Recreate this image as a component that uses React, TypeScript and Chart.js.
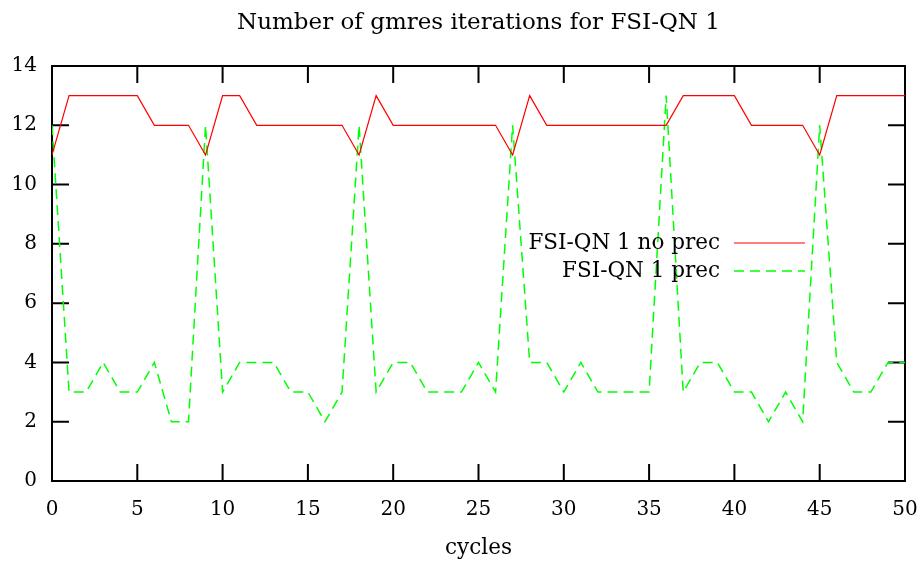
import { useEffect, useRef } from "react";
import { Chart, registerables } from "chart.js";

Chart.register(...registerables);

const cycles = [
  0, 1, 2, 3, 4, 5, 6, 7, 8, 9, 10, 11, 12, 13, 14, 15, 16, 17, 18, 19, 20, 21, 22, 23, 24, 25,
  26, 27, 28, 29, 30, 31, 32, 33, 34, 35, 36, 37, 38, 39, 40, 41, 42, 43, 44, 45, 46, 47, 48, 49, 50,
];
const noPrec = [
  11, 13, 13, 13, 13, 13, 12, 12, 12, 11, 13, 13, 12, 12, 12, 12, 12, 12, 11, 13, 12, 12, 12, 12, 12, 12,
  12, 11, 13, 12, 12, 12, 12, 12, 12, 12, 12, 13, 13, 13, 13, 12, 12, 12, 12, 11, 13, 13, 13, 13, 13,
];
const prec = [
  12, 3, 3, 4, 3, 3, 4, 2, 2, 12, 3, 4, 4, 4, 3, 3, 2, 3, 12, 3, 4, 4, 3, 3, 3, 4,
  3, 12, 4, 4, 3, 4, 3, 3, 3, 3, 13, 3, 4, 4, 3, 3, 2, 3, 2, 12, 4, 3, 3, 4, 4,
];
const xTicks = [0, 5, 10, 15, 20, 25, 30, 35, 40, 45, 50];
const yTicks = [0, 2, 4, 6, 8, 10, 12, 14];
const seriesNames = ["FSI-QN 1 no prec", "FSI-QN 1 prec"];
const titleText = "Number of gmres iterations for FSI-QN 1";
const xTitle = "cycles";

const FONT = "'DejaVu Serif', serif";
const TICK_SIZE = 20;
const TEXT_SIZE = 21.5;
const TITLE_SIZE = 23;

const framePlugin = {
  id: "gnuplotFrame",
  beforeDatasetsDraw(chart: any) {
    const { ctx, chartArea: a, scales } = chart;
    const tl = 17;
    ctx.save();
    ctx.strokeStyle = "#000";
    ctx.lineWidth = 2;
    ctx.beginPath();
    for (const v of xTicks) {
      const px = scales.x.getPixelForValue(v);
      ctx.moveTo(px, a.bottom);
      ctx.lineTo(px, a.bottom - tl);
      ctx.moveTo(px, a.top);
      ctx.lineTo(px, a.top + tl);
    }
    for (const v of yTicks) {
      const py = scales.y.getPixelForValue(v);
      ctx.moveTo(a.left, py);
      ctx.lineTo(a.left + tl, py);
      ctx.moveTo(a.right, py);
      ctx.lineTo(a.right - tl, py);
    }
    ctx.stroke();
    ctx.strokeRect(a.left, a.top, a.right - a.left, a.bottom - a.top);
    ctx.restore();
  },
  afterDraw(chart: any) {
    const { ctx, chartArea: a } = chart;
    ctx.save();
    // title centred over the plot area
    ctx.font = `${TITLE_SIZE}px ${FONT}`;
    ctx.fillStyle = "#000";
    ctx.textAlign = "center";
    ctx.textBaseline = "middle";
    ctx.fillText(titleText, (a.left + a.right) / 2, 23.5);

    // legend inside the plot
    const textRight = 720;
    const lineL = 734;
    const lineR = 805;
    const rows = [243, 271];
    ctx.font = `${TEXT_SIZE}px ${FONT}`;
    ctx.textAlign = "right";
    chart.data.datasets.forEach((ds: any, i: number) => {
      const y = rows[i];
      ctx.fillStyle = "#000";
      ctx.fillText(ds.label, textRight, y);
      ctx.strokeStyle = ds.borderColor;
      ctx.lineWidth = ds.borderWidth;
      ctx.setLineDash(ds.borderDash || []);
      ctx.beginPath();
      ctx.moveTo(lineL, y);
      ctx.lineTo(lineR, y);
      ctx.stroke();
    });
    ctx.restore();
  },
};

export default function App() {
  const ref = useRef<HTMLCanvasElement>(null);
  useEffect(() => {
    document.body.style.margin = "0";
    const canvas = ref.current!;
    const chart = new Chart(canvas, {
      type: "line",
      data: {
        datasets: [
          {
            label: seriesNames[0],
            data: cycles.map((c, i) => ({ x: c, y: noPrec[i] })),
            borderColor: "#ff0000",
            borderWidth: 1.2,
            pointRadius: 0,
            tension: 0,
            fill: false,
          },
          {
            label: seriesNames[1],
            data: cycles.map((c, i) => ({ x: c, y: prec[i] })),
            borderColor: "#00ff00",
            borderWidth: 1.5,
            borderDash: [10, 6],
            pointRadius: 0,
            tension: 0,
            fill: false,
          },
        ],
      },
      options: {
        responsive: false,
        animation: false,
        layout: { padding: { left: 0, right: 18, top: 66, bottom: 0 } },
        plugins: {
          legend: { display: false },
          tooltip: { enabled: false },
          title: { display: false },
        },
        scales: {
          x: {
            type: "linear",
            min: 0,
            max: 50,
            border: { display: false },
            grid: { display: false, drawTicks: false, tickLength: 0 },
            ticks: {
              stepSize: 5,
              color: "#000",
              font: { family: FONT, size: TICK_SIZE },
              padding: 17,
              maxRotation: 0,
            },
            title: {
              display: true,
              text: xTitle,
              color: "#000",
              font: { family: FONT, size: TEXT_SIZE, lineHeight: 1.2 },
              padding: { top: 0, bottom: 2 },
            },
            afterFit(scale: any) {
              scale.height = 82;
              scale.paddingLeft = 0;
              scale.paddingRight = 0;
            },
          },
          y: {
            min: 0,
            max: 14,
            border: { display: false },
            grid: { display: false, drawTicks: false, tickLength: 0 },
            ticks: {
              stepSize: 2,
              color: "#000",
              font: { family: FONT, size: TICK_SIZE },
              padding: 15,
            },
            afterFit(scale: any) {
              scale.width = 52;
              scale.paddingTop = 0;
              scale.paddingBottom = 0;
            },
          },
        },
      },
      plugins: [framePlugin],
    });
    return () => chart.destroy();
  }, []);
  return (
    <div style={{ width: 923, height: 563 }}>
      <canvas ref={ref} width={923} height={563} />
    </div>
  );
}
